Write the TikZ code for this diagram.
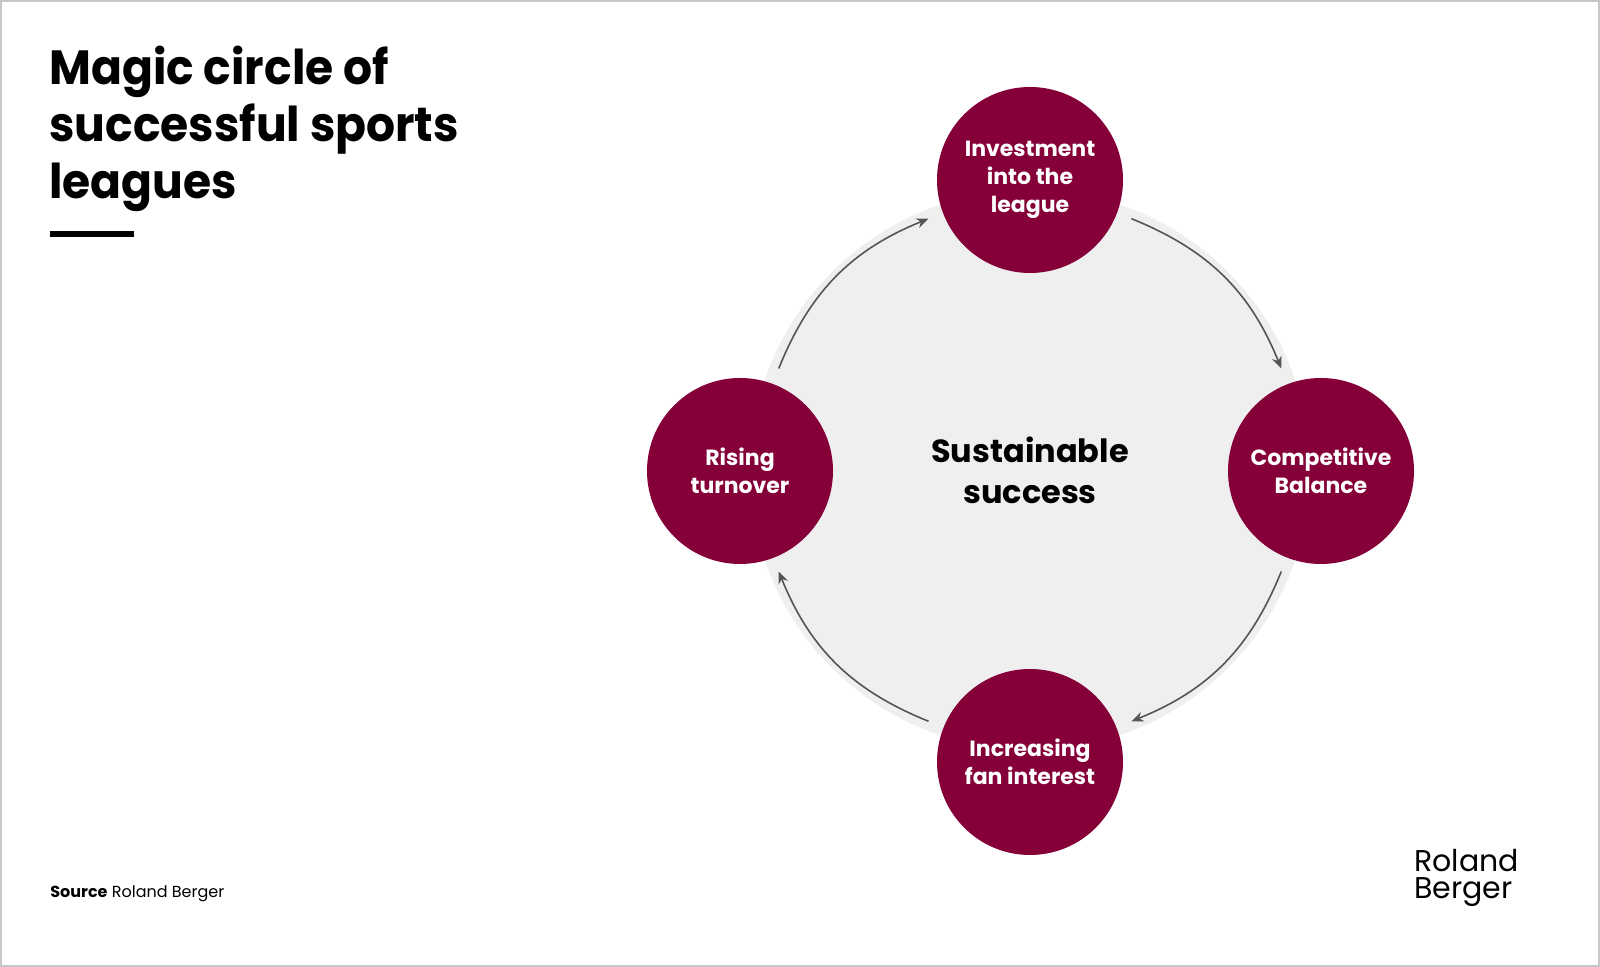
\documentclass[tikz,border=0pt]{standalone}
\usepackage{fontspec}
\setmainfont{Poppins}
\newfontfamily\titlefont{Poppins}[FakeStretch=0.95]
\usetikzlibrary{calc,arrows.meta}

\definecolor{rbred}{HTML}{850038}
\definecolor{rbback}{HTML}{EFEFEF}
\definecolor{rbarrow}{HTML}{555555}

\begin{document}
\begin{tikzpicture}[x=0.5pt,y=0.5pt,
  factor/.style={circle,fill=rbred,minimum size=93pt,inner sep=0pt,text=white,
    align=center,font=\fontsize{11}{14}\selectfont\bfseries},
  flow/.style={draw=rbarrow,line width=0.8pt,-{Stealth[length=6pt,width=5pt]}}
]

\useasboundingbox (0,0) rectangle (1600,967);
\draw[black!22,line width=1pt] (1,1) rectangle (1599,966);

% title
\node(title)[anchor=north west,inner sep=0pt,align=left,
  font=\titlefont\fontsize{24}{28.5}\selectfont\bfseries] at (49,921)
  {Magic circle of\\successful sports\\leagues};
\fill (50,736) rectangle (134,730);

% the circle
\coordinate(ctr) at (1030,497);
\fill[rbback] (ctr) circle[radius=280];
\node(goal)[align=center,font=\fontsize{16}{20.5}\selectfont\bfseries] at (ctr)
  {Sustainable\\success};

\node(inv)[factor] at (1030,787) {Investment\\into the\\league};
\node(bal)[factor] at (1321,496) {Competitive\\Balance};
\node(fan)[factor] at (1030,205) {Increasing\\fan interest};
\node(turn)[factor] at (740,496) {Rising\\turnover};

\foreach \s[count=\i] in {68,-22,-112,158}{
  \coordinate(s\i) at ($(ctr)+(\s:271)$);
  \coordinate(e\i) at ($(ctr)+(\s-46:271)$);
  \draw[flow] (s\i) to[bend left=23] (e\i);
}

% footer
\node(src)[anchor=base west,inner sep=0pt,font=\fontsize{8}{10}\selectfont] at (50,69)
  {\textbf{Source} Roland Berger};
\node(logo)[anchor=north west,inner sep=0pt,align=left,
  font=\fontsize{15}{13.5}\selectfont] at (1414,118)
  {Roland\\Berger};

\end{tikzpicture}
\end{document}
